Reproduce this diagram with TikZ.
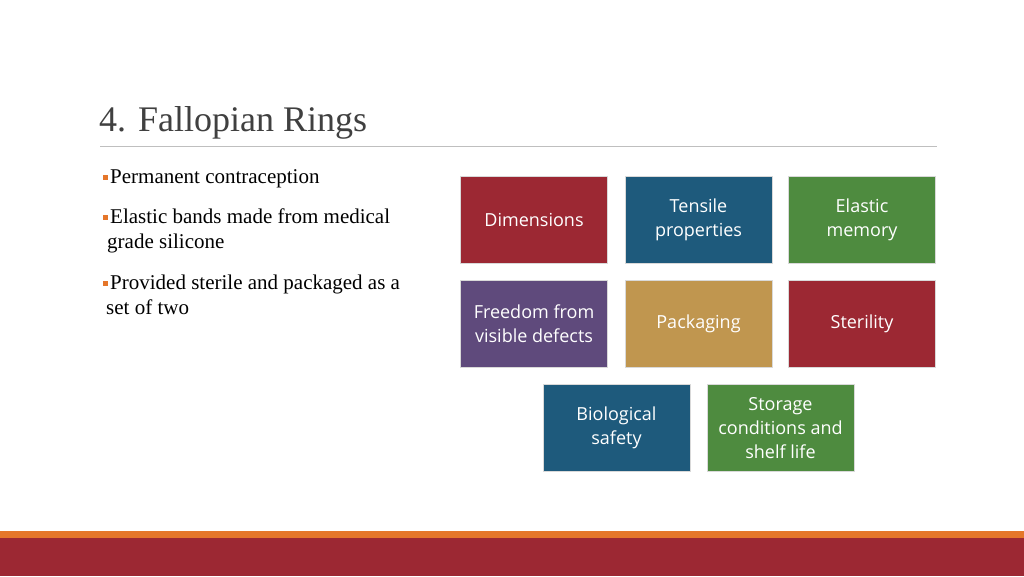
\documentclass[tikz,border=0pt]{standalone}
\usepackage{fontspec}
\setmainfont{Liberation Serif}
\newfontfamily\boxfont{Open Sans}
\definecolor{cred}{HTML}{9C2833}
\definecolor{cblue}{HTML}{1E5A7C}
\definecolor{cgreen}{HTML}{4E8B3F}
\definecolor{cpurple}{HTML}{5F4A7C}
\definecolor{ctan}{HTML}{C0964F}
\definecolor{corange}{HTML}{E5762A}
\definecolor{crule}{HTML}{BFBFBF}
\begin{document}
\begin{tikzpicture}[x=1pt,y=-1pt,
  tile/.style={draw=white!70!gray,line width=0.6pt,minimum width=147pt,minimum height=87pt,inner sep=0pt,align=center,text=white,font=\boxfont\fontsize{18}{24}\selectfont},
  bul/.style={anchor=north west,inner sep=0pt,font=\fontsize{21}{25.5}\selectfont,text width=349pt,align=justify},
  sq/.style={fill=corange,minimum size=5pt,inner sep=0pt}]
\useasboundingbox (0,0) rectangle (1024,576);
\fill[white] (0,0) rectangle (1024,576);
\node[anchor=base west,inner sep=0pt,font=\fontsize{36}{40}\selectfont,text=black!75] (title) at (99,131) {4. Fallopian Rings};
\draw[crule,line width=1pt] (100,146) -- (937,146);
% bullets
\node[sq] (s1) at (105,177) {};
\node[sq] (s2) at (105,217) {};
\node[sq] (s3) at (105,283) {};
\node[bul] (b1) at (110,169) {Permanent contraception};
\node[bul] (b2) at (110,209) {Elastic bands made from medical\\[-1pt]\hspace*{-3pt}grade silicone};
\node[bul,text width=349pt] (b3) at (110,275) {Provided sterile and packaged as a\\[-1pt]\hspace*{-4pt}set of two};
% tiles
\node[tile,fill=cred] (t1) at (534,219.5) {Dimensions};
\node[tile,fill=cblue] (t2) at (698.5,219.5) {Tensile\\properties};
\node[tile,fill=cgreen] (t3) at (862,219.5) {Elastic\\memory};
\node[tile,fill=cpurple] (t4) at (534,324) {Freedom from\\visible defects};
\node[tile,fill=ctan] (t5) at (698.5,324) {Packaging};
\node[tile,fill=cred] (t6) at (862,324) {Sterility};
\node[tile,fill=cblue] (t7) at (616.5,428) {Biological\\safety};
\node[tile,fill=cgreen] (t8) at (780.5,428) {Storage\\conditions and\\shelf life};
% bottom bars
\fill[corange] (0,531) rectangle (1024,537.5);
\fill[cred] (0,537.5) rectangle (1024,576);
\end{tikzpicture}
\end{document}
